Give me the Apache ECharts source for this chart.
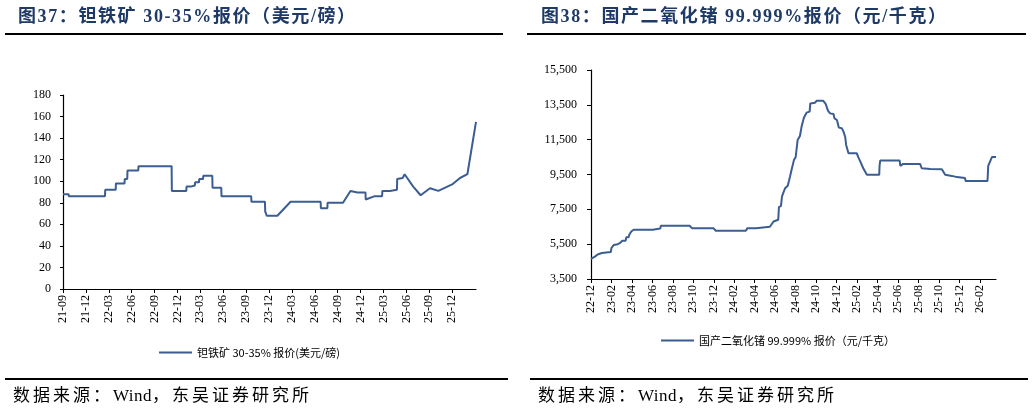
<!doctype html>
<html lang="zh">
<head>
  <meta charset="UTF-8">
  <title>钽铁矿与二氧化锗报价</title>
  <script src="https://cdn.jsdelivr.net/npm/echarts@6/dist/echarts.min.js"></script>
  <style>
    * {
      margin: 0;
      padding: 0;
      box-sizing: border-box;
    }

    body {
      width: 1032px;
      height: 412px;
      background: #fff;
      position: relative;
      overflow: hidden;
      font-family: "Liberation Serif", "Noto Sans CJK SC", serif;
    }

    #chart {
      position: absolute;
      left: 0;
      top: 0;
      width: 1032px;
      height: 412px;
    }

    .title {
      position: absolute;
      top: 5px;
      font-size: 18px;
      font-weight: bold;
      color: #1f3a66;
      letter-spacing: 1.6px;
      line-height: 22px;
      white-space: nowrap;
    }

    .rule {
      position: absolute;
      height: 2px;
      background: #000;
    }

    .source {
      position: absolute;
      top: 385px;
      font-size: 17px;
      letter-spacing: 3px;
      line-height: 22px;
      white-space: nowrap;
      color: #000;
    }

    .source span {
      letter-spacing: 0.5px;
    }
  </style>
</head>
<body>
<div id="chart"></div>
<div class="title" style="left:18px">图37：钽铁矿 30-35%报价（美元/磅）</div>
<div class="title" style="left:541px">图38：国产二氧化锗 99.999%报价（元/千克）</div>
<div class="rule" style="left:5px;width:498px;top:33px"></div>
<div class="rule" style="left:527px;width:499px;top:33px"></div>
<div class="rule" style="left:5px;width:503px;top:378px"></div>
<div class="rule" style="left:530px;width:498px;top:378px"></div>
<div class="source" style="left:13px">数据来源：<span>Wind</span>，东吴证券研究所</div>
<div class="source" style="left:538px">数据来源：<span>Wind</span>，东吴证券研究所</div>
<script>
  // 钽铁矿 30-35% 报价（美元/磅）
  const taName = '钽铁矿 30-35% 报价(美元/磅)'
  const taDates = [
    '2021-09-01', '2021-09-23', '2021-09-24', '2022-02-15', '2022-02-16', '2022-03-29', '2022-03-30',
    '2022-05-03', '2022-05-04', '2022-05-14', '2022-05-15', '2022-06-27', '2022-06-28', '2022-11-08',
    '2022-11-09', '2023-01-06', '2023-01-07', '2023-01-24', '2023-01-25', '2023-02-09', '2023-02-10',
    '2023-02-24', '2023-02-25', '2023-03-12', '2023-03-13', '2023-04-18', '2023-04-19', '2023-05-24',
    '2023-05-25', '2023-09-21', '2023-09-22', '2023-11-15', '2023-11-16', '2023-11-21', '2023-11-22',
    '2024-01-04', '2024-02-25', '2024-06-24', '2024-06-25', '2024-07-21', '2024-07-22', '2024-09-22',
    '2024-10-22', '2024-11-19', '2024-12-21', '2024-12-22', '2025-01-25', '2025-02-24', '2025-02-25',
    '2025-03-27', '2025-03-28', '2025-04-24', '2025-04-25', '2025-05-01', '2025-05-17', '2025-05-25',
    '2025-06-28', '2025-07-28', '2025-09-04', '2025-10-07', '2025-12-01', '2026-01-02', '2026-02-01',
    '2026-03-05'
  ]
  const taValues = [
    88, 88, 86, 86, 92, 92, 98,
    98, 102, 102, 110, 110, 114, 114,
    91, 91, 95, 95, 96, 96, 99,
    99, 102, 102, 105, 105, 94, 94,
    86, 86, 81, 81, 72, 72, 68,
    68, 81, 81, 75, 75, 80, 80,
    91, 89.5, 89.5, 83, 86, 86, 91,
    91, 92, 92, 102, 103, 103, 106.5,
    95, 87, 93.5, 91, 97, 103, 106.5,
    155
  ]
  const taTicks = ['21-09', '21-12', '22-03', '22-06', '22-09', '22-12', '23-03', '23-06', '23-09',
    '23-12', '24-03', '24-06', '24-09', '24-12', '25-03', '25-06', '25-09', '25-12']

  // 国产二氧化锗 99.999% 报价（元/千克）
  const geName = '国产二氧化锗 99.999% 报价（元/千克）'
  const geDates = [
    '2022-12-01', '2022-12-07', '2022-12-14', '2022-12-21', '2023-01-03', '2023-01-06', '2023-01-30',
    '2023-02-01', '2023-02-07', '2023-02-18', '2023-02-25', '2023-03-03', '2023-03-13', '2023-03-15',
    '2023-03-22', '2023-03-24', '2023-03-30', '2023-04-06', '2023-06-02', '2023-06-05', '2023-06-24',
    '2023-06-26', '2023-09-20', '2023-09-27', '2023-11-30', '2023-12-07', '2024-03-05', '2024-03-10',
    '2024-04-05', '2024-04-07', '2024-05-16', '2024-05-27', '2024-06-10', '2024-06-12', '2024-06-18',
    '2024-06-21', '2024-06-25', '2024-06-30', '2024-07-08', '2024-07-12', '2024-07-15', '2024-07-20',
    '2024-07-27', '2024-08-01', '2024-08-07', '2024-08-14', '2024-08-19', '2024-08-26', '2024-09-03',
    '2024-09-12', '2024-09-14', '2024-09-28', '2024-10-03', '2024-10-22', '2024-10-30', '2024-11-06',
    '2024-11-12', '2024-11-22', '2024-11-25', '2024-12-02', '2024-12-08', '2024-12-17', '2024-12-22',
    '2024-12-27', '2024-12-30', '2025-01-06', '2025-01-31', '2025-02-05', '2025-02-10', '2025-02-18',
    '2025-02-28', '2025-04-06', '2025-04-07', '2025-04-09', '2025-06-06', '2025-06-08', '2025-06-16',
    '2025-08-06', '2025-08-11', '2025-09-06', '2025-10-10', '2025-10-20', '2025-11-09', '2025-11-24',
    '2025-12-18', '2025-12-20', '2026-02-22', '2026-02-24', '2026-03-01', '2026-03-07', '2026-03-19'
  ]
  const geValues = [
    4650, 4760, 4800, 4910, 4990, 5050, 5050,
    5280, 5450, 5500, 5580, 5700, 5700, 5900,
    5900, 6040, 6230, 6330, 6330, 6400, 6400,
    6560, 6560, 6420, 6420, 6270, 6270, 6420,
    6420, 6500, 6500, 6800, 6900, 7630, 7700,
    8240, 8300, 8710, 8850, 9150, 9380, 9800,
    10340, 10490, 11480, 11710, 12250, 12760, 13050,
    13110, 13580, 13620, 13740, 13740, 13550, 13150,
    13010, 12970, 12720, 12630, 12190, 12150, 11960,
    11670, 11200, 10720, 10720, 10470, 10240, 9860,
    9480, 9480, 9990, 10300, 10300, 9990, 10110,
    10110, 9860, 9820, 9800, 9480, 9420, 9350,
    9300, 9130, 9130, 9990, 9990, 10510, 10510
  ]
  const geTicks = ['22-12', '23-02', '23-04', '23-06', '23-08', '23-10', '23-12', '24-02', '24-04',
    '24-06', '24-08', '24-10', '24-12', '25-02', '25-04', '25-06', '25-08', '25-10', '25-12', '26-02']

  // 日期 -> 距起始月份的月数（带小数）
  function monthIndex(s, by, bm) {
    const [y, m, d] = s.split('-').map(Number)
    const days = new Date(y, m, 0).getDate()
    return (y - by) * 12 + (m - bm) + (d - 1) / days
  }

  const taData = taDates.map((d, i) => [monthIndex(d, 2021, 9), taValues[i]])
  const geData = geDates.map((d, i) => [monthIndex(d, 2022, 12), geValues[i]])

  const lineColor = '#3b5d92'
  const axisFont = {fontFamily: 'Liberation Serif', fontSize: 12, color: '#000'}
  const axisLine = {show: true, lineStyle: {color: '#000', width: 1.2}}

  function xAxis(idx, ticks, step) {
    const vals = ticks.map((_, i) => i * step)
    return {
      type: 'value', gridIndex: idx, min: 0, max: 'dataMax',
      axisLine: axisLine,
      splitLine: {show: false},
      axisTick: {show: true, length: 4, customValues: vals, lineStyle: {color: '#000'}},
      axisLabel: Object.assign({
        rotate: 90, margin: 6, customValues: vals,
        formatter: v => ticks[Math.round(v / step)] || ''
      }, axisFont)
    }
  }

  const chart = echarts.init(document.getElementById('chart'))
  const option = {
    animation: false,
    grid: [
      {left: 63, top: 95, width: 413, height: 194},
      {left: 591, top: 70, width: 405, height: 209}
    ],
    xAxis: [xAxis(0, taTicks, 3), xAxis(1, geTicks, 2)],
    yAxis: [
      {
        type: 'value', gridIndex: 0, min: 0, max: 180, interval: 20,
        axisLine: axisLine, splitLine: {show: false},
        axisTick: {show: true, length: 3, lineStyle: {color: '#000'}},
        axisLabel: Object.assign({margin: 12}, axisFont)
      },
      {
        type: 'value', gridIndex: 1, min: 3500, max: 15500, interval: 2000,
        axisLine: axisLine, splitLine: {show: false},
        axisTick: {show: true, length: 4, lineStyle: {color: '#000'}},
        axisLabel: Object.assign({
          margin: 14,
          formatter: v => v.toLocaleString('en-US')
        }, axisFont)
      }
    ],
    legend: [
      {
        data: [taName], left: 154, top: 342, icon: 'rect', itemWidth: 33, itemHeight: 2,
        textStyle: {fontSize: 11, color: '#000', fontFamily: 'Noto Sans CJK SC'}
      },
      {
        data: [geName], left: 656, top: 330, icon: 'rect', itemWidth: 33, itemHeight: 2,
        textStyle: {fontSize: 11, color: '#000', fontFamily: 'Noto Sans CJK SC'}
      }
    ],
    series: [
      {
        name: taName, type: 'line', xAxisIndex: 0, yAxisIndex: 0, data: taData,
        showSymbol: false, itemStyle: {color: lineColor}, lineStyle: {color: lineColor, width: 2}
      },
      {
        name: geName, type: 'line', xAxisIndex: 1, yAxisIndex: 1, data: geData,
        showSymbol: false, itemStyle: {color: lineColor}, lineStyle: {color: lineColor, width: 2}
      }
    ]
  }
  chart.setOption(option)
</script>
</body>
</html>
